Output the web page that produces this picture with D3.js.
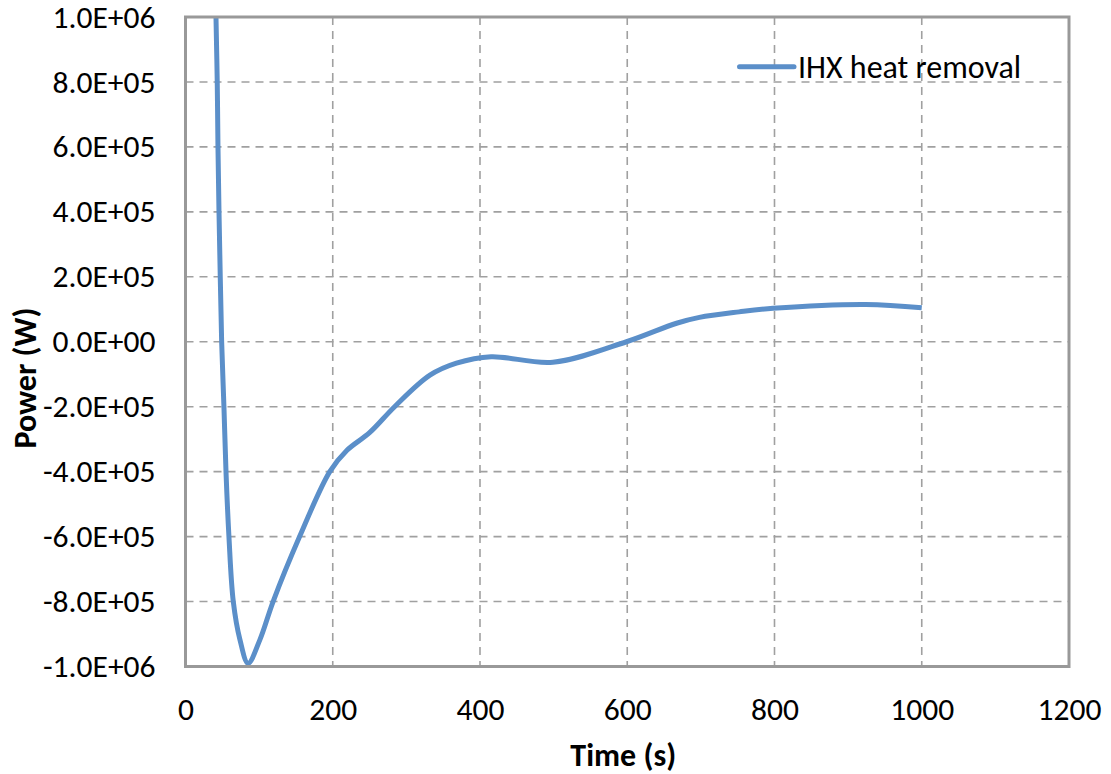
<!DOCTYPE html>
<html>
<head>
<meta charset="utf-8">
<script src="https://cdn.jsdelivr.net/npm/d3@7"></script>
<style>
  body { margin: 0; background: #fff; }
  text { font-family: Carlito, Lato, sans-serif; fill: #000; }
  .tick text { font-size: 31.5px; }
  .title { font-size: 32px; font-weight: bold; }
  .legend { font-size: 32px; }
</style>
</head>
<body>
<div id="chart"></div>
<script>
// time (s) and IHX heat removal (W)
var time = [41.0, 41.4, 43.1, 44.1, 45.5, 47.2, 49.1, 52.2, 55, 59, 64.9, 74, 85, 101, 119, 155, 196,
            219, 250, 284, 332, 368, 415, 499, 599, 667, 698, 752, 798, 924, 1000];
var power = [1.05e6, 1.0e6, 0.8e6, 0.6e6, 0.4e6, 0.2e6, 0, -0.2e6, -0.4e6, -0.6e6, -0.8e6, -0.918e6,
             -0.99e6, -0.918e6, -0.8e6, -0.6e6, -0.4e6, -0.335e6, -0.28e6, -0.2e6, -0.103e6,
             -0.066e6, -0.046e6, -0.063e6, 0, 0.057e6, 0.075e6, 0.092e6, 0.103e6, 0.115e6, 0.105e6];
var xTicks = [0, 200, 400, 600, 800, 1000, 1200];
var yTicks = [-1e6, -8e5, -6e5, -4e5, -2e5, 0, 2e5, 4e5, 6e5, 8e5, 1e6];
var seriesName = 'IHX heat removal';

var W = 1111, H = 774;
var margin = { top: 17, right: 42, bottom: 107.5, left: 185.5 };
var width = W - margin.left - margin.right;
var height = H - margin.top - margin.bottom;

// excel style 1.0E+06
function sci(v) {
    if (v == 0) return '0.0E+00';
    var e = Math.floor(Math.log10(Math.abs(v)) + 1e-9);
    var m = v / Math.pow(10, e);
    return m.toFixed(1) + 'E' + (e < 0 ? '-' : '+') + (Math.abs(e) < 10 ? '0' : '') + Math.abs(e);
}

var svg = d3.select('#chart').append('svg')
    .attr('width', W)
    .attr('height', H)
    .append('g')
    .attr('transform', 'translate(' + margin.left + ',' + margin.top + ')');

var x = d3.scaleLinear().domain([0, 1200]).range([0, width]);
var y = d3.scaleLinear().domain([-1e6, 1e6]).range([height, 0]);

// grid
svg.selectAll('.vgrid')
    .data(xTicks.slice(1, -1))
    .enter().append('line')
    .attr('x1', function (d) { return x(d); })
    .attr('x2', function (d) { return x(d); })
    .attr('y1', 0).attr('y2', height)
    .style('stroke', '#a0a0a0').style('stroke-width', 1.6).style('stroke-dasharray', '8,6');
svg.selectAll('.hgrid')
    .data(yTicks.slice(1, -1))
    .enter().append('line')
    .attr('y1', function (d) { return y(d); })
    .attr('y2', function (d) { return y(d); })
    .attr('x1', 0).attr('x2', width)
    .style('stroke', '#a0a0a0').style('stroke-width', 1.6).style('stroke-dasharray', '8,6');

// axes (labels only, frame drawn below)
var xAxis = svg.append('g')
    .attr('transform', 'translate(0,' + height + ')')
    .call(d3.axisBottom(x).tickValues(xTicks).tickFormat(d3.format('d')).tickSize(0).tickPadding(31));
xAxis.select('.domain').remove();

var yAxis = svg.append('g')
    .call(d3.axisLeft(y).tickValues(yTicks).tickFormat(sci).tickSize(0).tickPadding(30));
yAxis.select('.domain').remove();
svg.selectAll('.tick text').style('font-family', 'Carlito, Lato, sans-serif');

svg.append('clipPath').attr('id', 'clip')
    .append('rect').attr('width', width).attr('height', height);

var line = d3.line()
    .x(function (d, i) { return x(time[i]); })
    .y(function (d) { return y(d); })
    .curve(d3.curveCatmullRom.alpha(0.5));

svg.append('path')
    .datum(power)
    .attr('clip-path', 'url(#clip)')
    .attr('d', line)
    .style('fill', 'none')
    .style('stroke', '#5b8fc9')
    .style('stroke-width', 5)
    .style('stroke-linejoin', 'round');

// plot frame
svg.append('rect')
    .attr('width', width).attr('height', height)
    .style('fill', 'none').style('stroke', '#999').style('stroke-width', 3);

// titles
svg.append('text')
    .attr('class', 'title')
    .attr('x', width / 2 - 4)
    .attr('y', height + 99)
    .attr('text-anchor', 'middle')
    .text('Time (s)');
svg.append('text')
    .attr('class', 'title')
    .attr('transform', 'translate(' + (-margin.left + 36) + ',' + (378 - margin.top) + ') rotate(-90)')
    .attr('text-anchor', 'middle')
    .text('Power (W)');

// legend
svg.append('line')
    .attr('x1', 739.5 - margin.left).attr('x2', 794 - margin.left)
    .attr('y1', 66.7 - margin.top).attr('y2', 66.7 - margin.top)
    .style('stroke', '#5b8fc9').style('stroke-width', 5).style('stroke-linecap', 'round');
svg.append('text')
    .attr('class', 'legend')
    .attr('x', 798 - margin.left)
    .attr('y', 67 - margin.top)
    .attr('dy', '0.35em')
    .text(seriesName);
</script>
</body>
</html>
